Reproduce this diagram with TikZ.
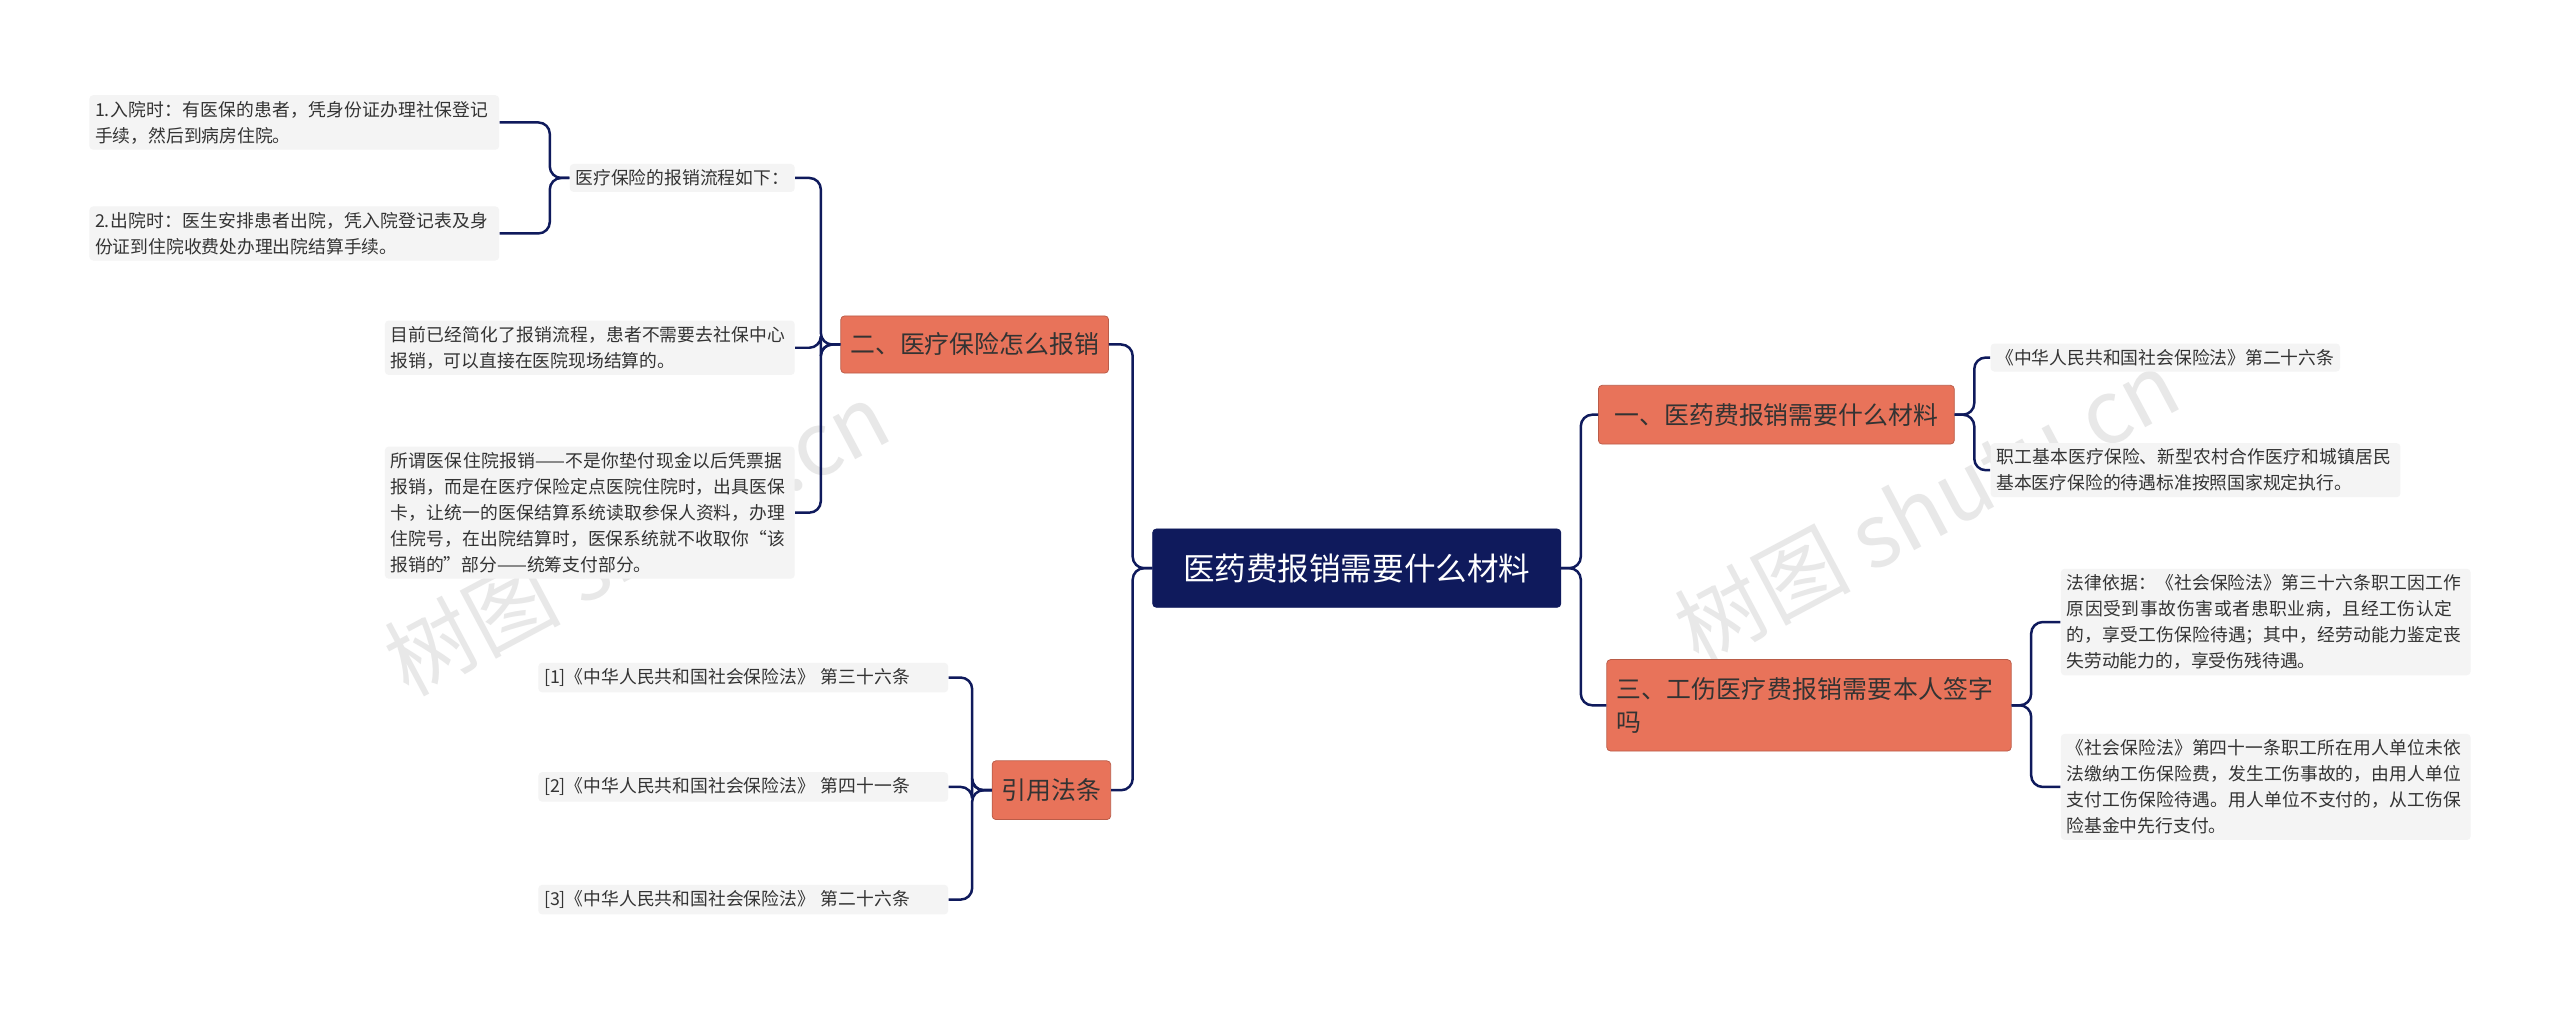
\documentclass[tikz,border=0pt]{standalone}
\usepackage{fontspec}
\setmainfont{Noto Sans CJK SC}
\XeTeXlinebreaklocale "zh"
\XeTeXlinebreakskip=0pt plus 1pt
\begin{document}
\begin{tikzpicture}[x=0.03cm,y=-0.03cm,
  root/.style={fill=navy,draw=navy,rounded corners=2pt,text=white,font=\fontsize{16.5}{20}\selectfont,minimum height=48*0.03cm,inner xsep=8pt},
  br/.style={fill=org,draw=org!80!black,rounded corners=2pt,text=textc,font=\fontsize{13}{17}\selectfont,inner xsep=5pt,inner ysep=4pt,align=left},
  leaf/.style={fill=leafc,rounded corners=2pt,text=textc,font=\fontsize{9.3}{13.6}\selectfont,align=left,inner sep=3pt},
  con/.style={draw=navy,line width=1.3pt,rounded corners=6pt}]
\definecolor{navy}{HTML}{0F1A5C}
\definecolor{org}{HTML}{E8735A}
\definecolor{textc}{HTML}{333333}
\definecolor{leafc}{HTML}{F4F4F4}
\useasboundingbox (0,0) rectangle (1568,628);
\fill[white] (0,0) rectangle (1568,628);
% watermarks
\node[text=gray!18,font=\fontsize{46}{50}\selectfont,rotate=28] (wm1) at (390,330) {树图 shutu.cn};
\node[text=gray!18,font=\fontsize{46}{50}\selectfont,rotate=28] (wm2) at (1180,310) {树图 shutu.cn};
% root
\node[root,minimum width=250*0.03cm] (r) at (831,348) {医药费报销需要什么材料};
% right branches
\node[br,minimum width=218*0.03cm,minimum height=36*0.03cm] (b1) at (1088,254) {一、医药费报销需要什么材料};
\node[br,text width=236*0.03cm,minimum height=56*0.03cm] (b3) at (1108,432) {三、工伤医疗费报销需要本人签字吗};
% left branches
\node[br,minimum height=35*0.03cm] (b2) at (597,211) {二、医疗保险怎么报销};
\node[br,minimum height=36*0.03cm] (b4) at (644,484) {引用法条};
% leaves right
\node[leaf,anchor=west] (l11) at (1219,219) {《中华人民共和国社会保险法》第二十六条};
\node[leaf,anchor=west,text width=244*0.03cm] (l12) at (1219,288) {职工基本医疗保险、新型农村合作医疗和城镇居民基本医疗保险的待遇标准按照国家规定执行。};
\node[leaf,anchor=west,text width=244*0.03cm] (l31) at (1262,381) {法律依据：《社会保险法》第三十六条职工因工作原因受到事故伤害或者患职业病，且经工伤认定的，享受工伤保险待遇；其中，经劳动能力鉴定丧失劳动能力的，享受伤残待遇。};
\node[leaf,anchor=west,text width=244*0.03cm] (l32) at (1262,482) {《社会保险法》第四十一条职工所在用人单位未依法缴纳工伤保险费，发生工伤事故的，由用人单位支付工伤保险待遇。用人单位不支付的，从工伤保险基金中先行支付。};
% leaves left
\node[leaf,anchor=east] (l21) at (487,109) {医疗保险的报销流程如下：};
\node[leaf,anchor=east,text width=244*0.03cm] (l211) at (306,75) {1.入院时：有医保的患者，凭身份证办理社保登记手续，然后到病房住院。};
\node[leaf,anchor=east,text width=244*0.03cm] (l212) at (306,143) {2.出院时：医生安排患者出院，凭入院登记表及身份证到住院收费处办理出院结算手续。};
\node[leaf,anchor=east,text width=244*0.03cm] (l22) at (487,213) {目前已经简化了报销流程，患者不需要去社保中心报销，可以直接在医院现场结算的。};
\node[leaf,anchor=east,text width=244*0.03cm] (l23) at (487,314) {所谓医保住院报销——不是你垫付现金以后凭票据报销，而是在医疗保险定点医院住院时，出具医保卡，让统一的医保结算系统读取参保人资料，办理住院号，在出院结算时，医保系统就不收取你“该报销的”部分——统筹支付部分。};
\node[leaf,anchor=east,text width=244*0.03cm] (l41) at (581,415) {[1]《中华人民共和国社会保险法》 第三十六条};
\node[leaf,anchor=east,text width=244*0.03cm] (l42) at (581,482) {[2]《中华人民共和国社会保险法》 第四十一条};
\node[leaf,anchor=east,text width=244*0.03cm] (l43) at (581,551) {[3]《中华人民共和国社会保险法》 第二十六条};
% connectors
\foreach \b in {b2,b4} \draw[con] (r.west) -- ++(-12,0) |- (\b.east);
\foreach \b in {b1,b3} \draw[con] (r.east) -- ++(12,0) |- (\b.west);
\foreach \l in {l11,l12} \draw[con] (b1.east) -- ++(12,0) |- (\l.west);
\foreach \l in {l31,l32} \draw[con] (b3.east) -- ++(12,0) |- (\l.west);
\foreach \l in {l21,l22,l23} \draw[con] (b2.west) -- ++(-12,0) |- (\l.east);
\foreach \l in {l211,l212} \draw[con] (l21.west) -- ++(-12,0) |- (\l.east);
\foreach \l in {l41,l42,l43} \draw[con] (b4.west) -- ++(-12,0) |- (\l.east);
\end{tikzpicture}
\end{document}
